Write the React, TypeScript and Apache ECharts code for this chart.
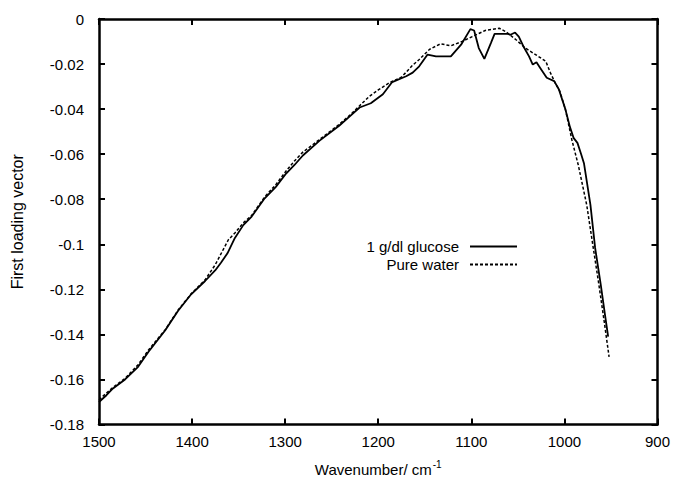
import React, { useEffect, useRef } from "react";
import * as echarts from "echarts";

// Wavenumbers (cm^-1) and first loading vector values
const glucoseWavenumbers = [
  1500, 1492, 1485, 1472, 1458, 1447, 1429, 1415, 1401, 1386, 1375, 1369, 1362, 1354, 1345,
  1336, 1322, 1310, 1299, 1290, 1281, 1263, 1242, 1230, 1220, 1208, 1195, 1185, 1170, 1163,
  1156, 1147, 1138, 1122, 1111, 1101, 1097, 1092, 1086, 1079, 1075, 1061, 1058, 1053, 1049,
  1044, 1038, 1034, 1030, 1026, 1019, 1011, 1006, 999, 994, 990, 986, 982, 979, 972, 967,
  961, 956, 953,
];
const glucoseValues = [
  -0.17, -0.167, -0.164, -0.16, -0.1544, -0.1478, -0.1383, -0.1295, -0.1222, -0.1163, -0.1115,
  -0.1082, -0.104, -0.0972, -0.0915, -0.0877, -0.0796, -0.0745, -0.0686, -0.0648, -0.0606,
  -0.054, -0.0474, -0.043, -0.0393, -0.0374, -0.0334, -0.028, -0.0254, -0.0238, -0.021,
  -0.0158, -0.0166, -0.0166, -0.0114, -0.0045, -0.0051, -0.0129, -0.0177, -0.0107, -0.0066,
  -0.0066, -0.007, -0.006, -0.0078, -0.0122, -0.0166, -0.0202, -0.0192, -0.0217, -0.0261,
  -0.0276, -0.0312, -0.04, -0.048, -0.0529, -0.055, -0.06, -0.064, -0.0826, -0.1016, -0.1178,
  -0.1324, -0.141,
];
const waterWavenumbers = [
  1500, 1485, 1472, 1458, 1447, 1429, 1415, 1401, 1386, 1375, 1361, 1354, 1345, 1336, 1322,
  1310, 1299, 1290, 1281, 1263, 1242, 1230, 1220, 1210, 1200, 1188, 1175, 1163, 1156, 1145,
  1133, 1122, 1110, 1099, 1085, 1070, 1063, 1052, 1042, 1031, 1020, 1015, 1010, 1005, 999,
  992, 985, 976, 969, 963, 957, 952,
];
const waterValues = [
  -0.169, -0.1635, -0.1595, -0.1535, -0.147, -0.138, -0.1292, -0.122, -0.1158, -0.109, -0.098,
  -0.095, -0.0905, -0.0872, -0.079, -0.0735, -0.0675, -0.063, -0.0591, -0.0535, -0.0468,
  -0.0425, -0.0385, -0.0345, -0.0315, -0.0283, -0.0258, -0.0205, -0.018, -0.0135, -0.011,
  -0.0119, -0.01, -0.0078, -0.0051, -0.0041, -0.0056, -0.0092, -0.0129, -0.0158, -0.0188,
  -0.0239, -0.0283, -0.032, -0.04, -0.0536, -0.065, -0.0826, -0.1016, -0.1178, -0.135, -0.15,
];

const seriesNames = ["1 g/dl glucose", "Pure water"];
const xTicks = { min: 900, max: 1500, interval: 100 };
const yTicks = { min: -0.18, max: 0, interval: 0.02 };

const FONT = "'Liberation Sans', Arial, Helvetica, sans-serif";

export default function App() {
  const ref = useRef<HTMLDivElement>(null);

  useEffect(() => {
    if (!ref.current) return;
    const chart = echarts.init(ref.current, undefined, { renderer: "svg" });

    const glucose = glucoseWavenumbers.map((w, i) => [w, glucoseValues[i]]);
    const water = waterWavenumbers.map((w, i) => [w, waterValues[i]]);

    const axisLine = { show: true, onZero: false, lineStyle: { color: "#000", width: 2.5 } };
    const tick = { show: true, inside: true, length: 6, lineStyle: { color: "#000", width: 2 } };
    const label = { color: "#000", fontSize: 15, fontFamily: FONT };

    const legendCommon = {
      orient: "vertical",
      align: "right",
      right: 155,
      itemWidth: 47,
      itemHeight: 14,
      padding: 0,
      itemGap: 0,
      itemStyle: { opacity: 0 },
      textStyle: { color: "#000", fontSize: 15, fontFamily: FONT, padding: [0, 6, 0, 0] },
    };

    chart.setOption({
      animation: false,
      backgroundColor: "#fff",
      grid: { left: 99, right: 14, top: 19, bottom: 54, containLabel: false },
      legend: [
        { ...legendCommon, data: [seriesNames[0]], top: 239 },
        { ...legendCommon, data: [seriesNames[1]], top: 257 },
      ],
      xAxis: [
        {
          type: "value",
          inverse: true,
          min: xTicks.min,
          max: xTicks.max,
          interval: xTicks.interval,
          position: "bottom",
          axisLine,
          axisTick: tick,
          splitLine: { show: false },
          axisLabel: { ...label, margin: 9, formatter: (v: number) => String(v) },
          name: "{a|Wavenumber/ cm}{b|-1}",
          nameLocation: "middle",
          nameGap: 35,
          nameTextStyle: {
            rich: {
              a: { fontSize: 15, fontFamily: FONT, color: "#000" },
              b: { fontSize: 10, fontFamily: FONT, color: "#000", padding: [0, 0, 10, 1] },
            },
          },
        },
        {
          type: "value",
          inverse: true,
          min: xTicks.min,
          max: xTicks.max,
          interval: xTicks.interval,
          position: "top",
          axisLine,
          axisTick: tick,
          splitLine: { show: false },
          axisLabel: { show: false },
        },
      ],
      yAxis: [
        {
          type: "value",
          min: yTicks.min,
          max: yTicks.max,
          interval: yTicks.interval,
          position: "left",
          axisLine,
          axisTick: tick,
          splitLine: { show: false },
          axisLabel: {
            ...label,
            margin: 15,
            formatter: (v: number) => String(Math.round(v * 100) / 100),
          },
          name: "First loading vector",
          nameLocation: "middle",
          nameGap: 74,
          nameTextStyle: { color: "#000", fontSize: 16, fontFamily: FONT },
        },
        {
          type: "value",
          min: yTicks.min,
          max: yTicks.max,
          interval: yTicks.interval,
          position: "right",
          axisLine,
          axisTick: tick,
          splitLine: { show: false },
          axisLabel: { show: false },
        },
      ],
      series: [
        {
          name: seriesNames[0],
          type: "line",
          data: glucose,
          symbol: "none",
          showSymbol: false,
          lineStyle: { color: "#000", width: 1.8, type: "solid" },
          itemStyle: { color: "#000" },
        },
        {
          name: seriesNames[1],
          type: "line",
          data: water,
          symbol: "none",
          showSymbol: false,
          lineStyle: { color: "#000", width: 1.5, type: [3, 2] },
          itemStyle: { color: "#000" },
        },
      ],
    });

    return () => chart.dispose();
  }, []);

  return (
    <div
      ref={ref}
      style={{ position: "fixed", left: 0, top: 0, width: 673, height: 482, background: "#fff" }}
    />
  );
}
